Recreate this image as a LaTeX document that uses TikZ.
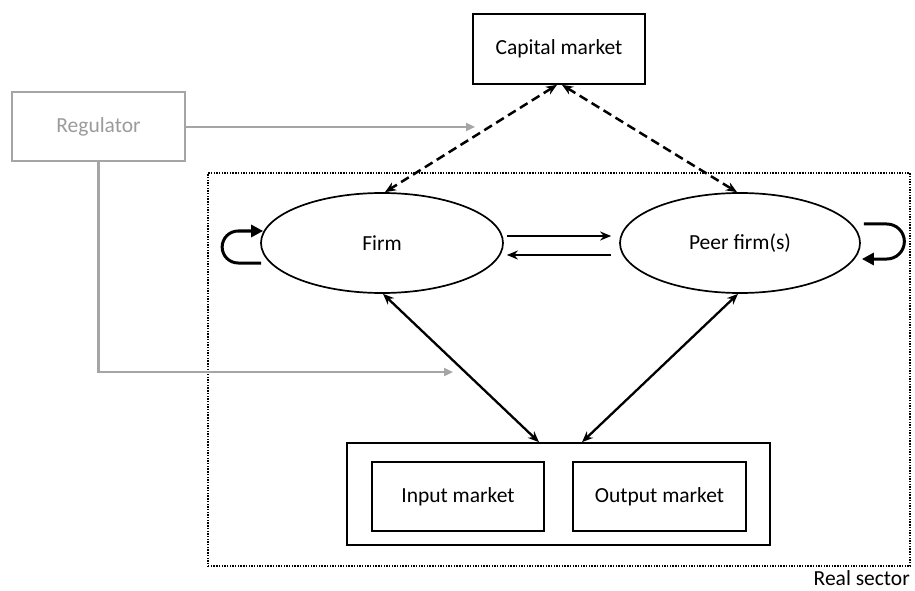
\documentclass[tikz,border=0pt]{standalone}
\usepackage{fontspec}
\setmainfont{Carlito}
\usetikzlibrary{arrows.meta,shapes.geometric,calc}
\definecolor{reggray}{RGB}{165,165,165}
\definecolor{regtext}{RGB}{155,155,155}
\begin{document}
\begin{tikzpicture}[x=1pt,y=1pt,
  every node/.style={font=\fontsize{21.5}{25}\selectfont, inner sep=0pt},
  box/.style={draw=black, line width=1.7pt, rectangle},
  oval/.style={draw=black, line width=1.7pt, ellipse, minimum width=242pt, minimum height=100pt},
  arr/.style={line width=2.3pt, -{Stealth[length=11pt,width=9pt]}},
  darr/.style={line width=2.3pt, {Stealth[length=11pt,width=9pt]}-{Stealth[length=11pt,width=9pt]}},
  dasharr/.style={line width=2.5pt, dash pattern=on 9pt off 5pt, {Stealth[length=11pt,width=9pt]}-{Stealth[length=11pt,width=9pt]}},
  looparr/.style={line width=3pt, -{Triangle[length=12pt,width=12pt]}},
  grayarr/.style={draw=reggray, line width=2.3pt, -{Triangle[length=9pt,width=8pt]}},
]
\useasboundingbox (0,0) rectangle (915,590);
% nodes
\node[box, minimum width=172pt, minimum height=70pt] (cap) at (559,541) {Capital market};
\node[draw=reggray, line width=2.2pt, rectangle, minimum width=173pt, minimum height=69pt, text=regtext] (reg) at (98.5,463.5) {Regulator};
\node[draw=black, line width=1.4pt, dash pattern=on 1.4pt off 1.3pt, rectangle, minimum width=702pt, minimum height=393pt] (sector) at (559,220.5) {};
\node[anchor=base east] (sectorlabel) at (910,5) {Real sector};
\node[oval] (firm) at (382,347) {Firm};
\node[oval, minimum width=240pt] (peer) at (740,347) {Peer firm(s)};
\node[box, minimum width=423pt, minimum height=102pt] (outer) at (558.5,96) {};
\node[box, minimum width=172pt, minimum height=69pt] (inp) at (458,93.5) {Input market};
\node[box, minimum width=173pt, minimum height=69pt] (outp) at (659.5,93.5) {Output market};
% free ends of regulator arrows
\coordinate (regend1) at (475,463);
\coordinate (regend2) at (453,218);
% regulator connectors
\draw[grayarr] (reg.east |- regend1) -- (regend1);
\draw[grayarr] (reg.south) |- (regend2);
% capital market dashed
\draw[dasharr] ($(cap.south)+(-2,0)$) -- ($(firm.north)+(3,0)$);
\draw[dasharr] ($(cap.south)+(3,0)$) -- ($(peer.north)+(-3,0)$);
% firm <-> peer
\draw[arr] ($(firm.east)+(3,7)$) -- ($(peer.west)+(-8,7)$);
\draw[arr] ($(peer.west)+(-8,-12)$) -- ($(firm.east)+(3,-12)$);
% self loops
\draw[looparr] ($(firm.west)+(1,-20)$) -- ++(-23,0) arc[start angle=270,end angle=90,radius=16] -- ($(firm.west)+(3,12)$);
\draw[looparr] ($(peer.east)+(3,19)$) -- ++(23,0) arc[start angle=90,end angle=-90,radius=17.5] -- ($(peer.east)+(1,-16)$);
% firms <-> product markets
\draw[darr] ($(firm.south)+(1,0)$) -- ($(outer.north)+(-19.5,0)$);
\draw[darr] ($(peer.south)+(-2,0)$) -- ($(outer.north)+(23.5,0)$);
\end{tikzpicture}
\end{document}
